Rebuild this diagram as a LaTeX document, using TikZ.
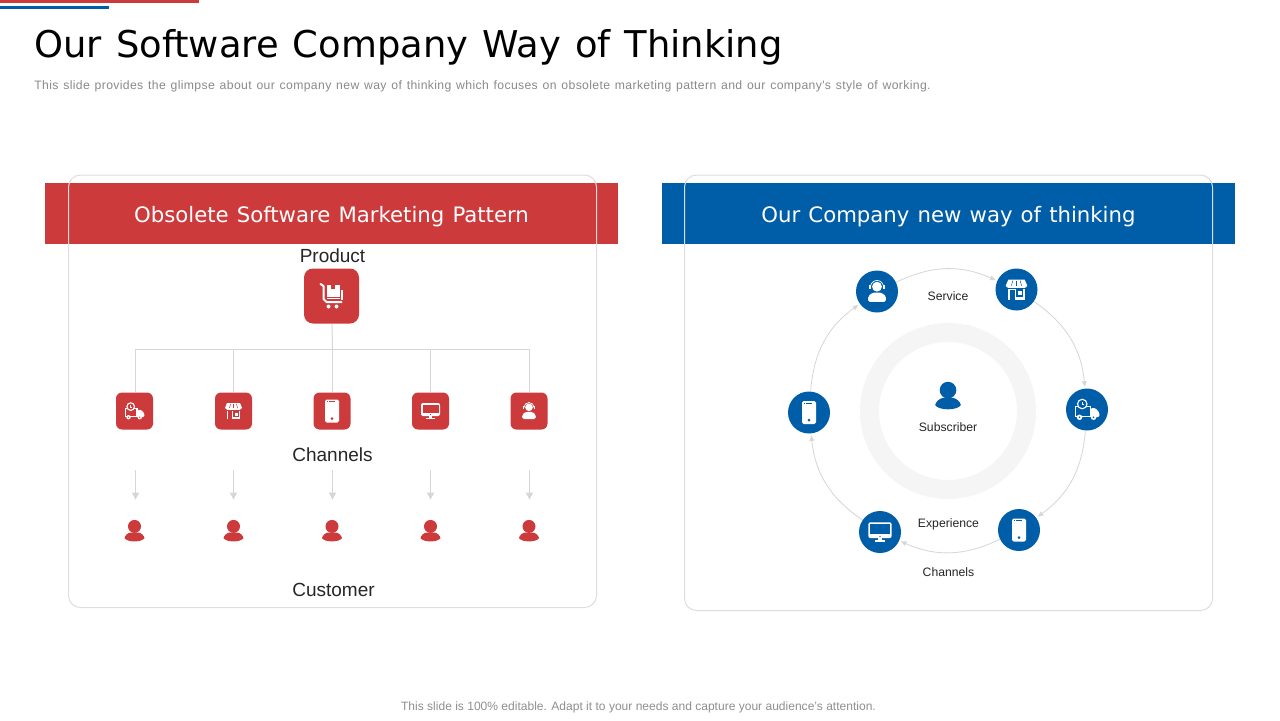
\documentclass[tikz,border=0pt]{standalone}
\usepackage{fontspec}
\setmainfont{Liberation Sans}
\newfontfamily\headfont[WordSpace=1.2]{DejaVu Sans}
\newfontfamily\subfont[LetterSpace=2.9,WordSpace=1.3]{Liberation Sans}
\usetikzlibrary{arrows.meta}
\definecolor{brandred}{HTML}{CC3A3C}
\definecolor{brandblue}{HTML}{005EA8}
\definecolor{framegray}{HTML}{DEDEDE}
\definecolor{linegray}{HTML}{D6D6D6}
\definecolor{ringgray}{HTML}{F5F5F5}
\definecolor{subgray}{HTML}{8A8A8A}
\definecolor{footgray}{HTML}{8F8F8F}
\definecolor{labelink}{HTML}{262626}
\tikzset{
  x=0.5pt,y=-0.5pt,
  panel/.style={draw=framegray,line width=.5pt,rounded corners=6pt,inner sep=0pt},
  banner/.style={inner sep=0pt,minimum width=286.5pt,minimum height=30.5pt},
  bannertext/.style={anchor=base,inner sep=0pt,text=white,font=\headfont\fontsize{10.62pt}{13pt}\selectfont},
  bigbox/.style={fill=brandred,rounded corners=4.5pt,minimum size=27.5pt,inner sep=0pt},
  chbox/.style={fill=brandred,rounded corners=3pt,minimum size=18.5pt,inner sep=0pt},
  blob/.style={fill=brandblue,circle,minimum size=21pt,inner sep=0pt},
  custnode/.style={inner sep=0pt,minimum width=11pt,minimum height=12pt},
  biglabel/.style={inner sep=0pt,text=labelink,font=\fontsize{9.5pt}{11pt}\selectfont},
  smalllabel/.style={inner sep=0pt,text=labelink,font=\fontsize{6.1pt}{8pt}\selectfont},
  tree/.style={draw=linegray,line width=.5pt},
  down/.style={draw=linegray,line width=.5pt,-{Triangle[length=3.5pt,width=3.5pt]},shorten <=20pt,shorten >=9.5pt},
  orbit/.style={draw=linegray,line width=.4pt,-{Latex[length=3pt,width=2.6pt]},bend left=25,shorten >=.5pt},
  pics/iphone/.style={code={
    \fill[white,rounded corners=.8pt] (-7,-11.5) rectangle (7,11.5);
    \fill[iconbg] (0,7.7) circle (1.5);
    \fill[iconbg] (-5,-9.9) rectangle (-4,-9);
    \fill[iconbg] (-3,-9.8) rectangle (3,-9.2);
  }},
  pics/imonitor/.style={code={
    \fill[white,rounded corners=1pt] (-9.5,-8) rectangle (9.5,5);
    \fill[iconbg] (-8,-6.5) rectangle (8,2);
    \fill[iconbg] (0,3.5) circle (.6);
    \fill[white] (-1.7,5) rectangle (1.7,7);
    \fill[white] (-4.5,6.6) rectangle (4.5,8);
  }},
  pics/iagent/.style={code={
    \fill[white] (0,-3.7) circle (3.8);
    \draw[white,line width=.35pt] (-5,-3.5) arc[start angle=180,end angle=360,radius=5];
    \fill[white] (-6.2,-4.8) rectangle (-4.8,-1.8);
    \fill[white] (4.8,-4.8) rectangle (6.2,-1.8);
    \fill[white,rounded corners=.8pt] (-6.8,8) -- (-6.8,3.5) -- (-3.2,.8) -- (3.2,.8) -- (6.8,3.5) -- (6.8,8) -- cycle;
  }},
  pics/ishop/.style={code={
    \fill[white] (-6.8,-3) rectangle (6.8,8);
    \fill[iconbg] (-5.2,0) rectangle (-1.4,8);
    \fill[iconbg] (-.2,-.2) rectangle (5.4,5.8);
    \fill[white] (1,1.5) rectangle (4.2,4.6);
    \fill[white] (-6.5,-8) -- (6.5,-8) -- (8.5,-3.2) -- (-8.5,-3.2) -- cycle;
    \foreach \u in {-8.5,-5.1,-1.7,1.7,5.1} {\fill[white] (\u+1.7,-3.2) circle (1.7);}
    \foreach \u in {-3.4,0,3.4} {\draw[iconbg,line width=.25pt] (\u*.85,-7.2) -- (\u*1.2,-3);}
    \fill[iconbg] (-8.5,-1.1) rectangle (8.5,-.6);
  }},
  pics/itruck/.style={code={
    \draw[white,line width=.55pt] (-9,-2.2) rectangle (2.5,5.5);
    \draw[white,line width=.55pt,fill=iconbg] (-3.8,-4.4) circle (3.8);
    \draw[white,line width=.3pt] (-3.8,-6.2) -- (-3.8,-4.2) -- (-2.2,-4.2);
    \fill[white,rounded corners=.6pt] (3.2,-1.2) -- (6.5,-1.2) -- (9.8,2.2) -- (9.8,6) -- (3.2,6) -- cycle;
    \fill[white] (-6,6.2) circle (2.2);
    \fill[white] (5.2,6.2) circle (2.2);
    \fill[iconbg] (-6,6.2) circle (.7);
    \fill[iconbg] (5.2,6.2) circle (.7);
  }},
  pics/icart/.style={code={
    \draw[white,line width=1pt,line join=round,line cap=round] (-11,-12) -- (-8,-10) -- (-8,3) -- (-5,6) -- (10,6);
    \fill[white] (-5,-11.5) rectangle (8,3);
    \fill[iconbg] (-.5,-11.5) rectangle (3,-7);
    \fill[iconbg] (-5,.8) rectangle (8,1.6);
    \draw[white,line width=.9pt] (10.8,-6) -- (10.8,4);
    \fill[white] (-3,10.5) circle (2);
    \fill[white] (5,10.5) circle (2);
  }},
  pics/iperson/.style={code={
    \fill[iconfg] (0,-4.6) circle (6.5);
    \fill[iconfg] (-10,7) .. controls (-9.5,4.5) and (-6.5,1.5) .. (-3.5,1.5) -- (3.5,1.5) .. controls (6.5,1.5) and (9.5,4.5) .. (10,7) .. controls (9,9) and (5,10.4) .. (0,10.4) .. controls (-5,10.4) and (-9,9) .. (-10,7) -- cycle;
  }},
}
\begin{document}
\begin{tikzpicture}
\useasboundingbox (0,0) rectangle (1280,720);
\fill[white] (0,0) rectangle (1280,720);
% top strips
\fill[brandred] (0,0) rectangle (199,3);
\fill[brandblue] (0,6) rectangle (109,9);
% heading
\node[anchor=base west,inner sep=0pt,text=black,font=\headfont\fontsize{18.45pt}{23pt}\selectfont] (title) at (34,57) {Our Software Company Way of Thinking};
\node[anchor=base west,inner sep=0pt,text=subgray,font=\subfont\fontsize{6.1pt}{8pt}\selectfont] (subtitle) at (34,89) {This slide provides the glimpse about our company new way of thinking which focuses on obsolete marketing pattern and our company's style of working.};
\node[anchor=base,inner sep=0pt,text=footgray,font=\fontsize{6.02pt}{8pt}\selectfont] (foot) at (638.5,710) {This slide is 100\% editable. Adapt it to your needs and capture your audience's attention.};
% left panel
\node[banner,fill=brandred] (lbanner) at (331.5,213.5) {};
\node[panel,minimum width=264pt,minimum height=216.25pt] (lpanel) at (332.5,391.25) {};
\node[bannertext] (ltitle) at (331.5,222) {Obsolete Software Marketing Pattern};
\node[biglabel] (product) at (332.5,255.5) {Product};
\node[biglabel] (channels) at (332.5,454.5) {Channels};
\node[biglabel] (customer) at (333.5,589.5) {Customer};
\begin{scope}
\colorlet{iconbg}{brandred}\colorlet{iconfg}{brandred}
\node[bigbox] (prod) at (331.5,296) {};
\pic at (prod.center) {icart};
\node[chbox] (ch1) at (134.5,411) {};
\node[chbox] (ch2) at (233.5,411) {};
\node[chbox] (ch3) at (332,411) {};
\node[chbox] (ch4) at (430.5,411) {};
\node[chbox] (ch5) at (529,411) {};
\pic at (ch1.center) {itruck};
\pic at (ch2.center) {ishop};
\pic at (ch3.center) {iphone};
\pic at (ch4.center) {imonitor};
\pic at (ch5.center) {iagent};
\foreach \i/\u in {1/134.5,2/233.5,3/332,4/430.5,5/529}{
  \node[custnode] (cu\i) at (\u,531) {};
  \pic at (cu\i.center) {iperson};
}
\end{scope}
\coordinate (bus) at (332.5,349.5);
\draw[tree] ([xshift=.25pt]prod.south) -- (bus);
\draw[tree] ([xshift=.5pt]ch1.north) |- (bus);
\draw[tree] (ch2.north) |- (bus);
\draw[tree] ([xshift=.25pt]ch3.north) -- (bus);
\draw[tree] (ch4.north) |- (bus);
\draw[tree] ([xshift=.25pt]ch5.north) |- (bus);
\draw[down] ([xshift=.5pt]ch1.south) -- ([xshift=.5pt]cu1.north);
\draw[down] (ch2.south) -- (cu2.north);
\draw[down] ([xshift=.25pt]ch3.south) -- ([xshift=.25pt]cu3.north);
\draw[down] (ch4.south) -- (cu4.north);
\draw[down] ([xshift=.25pt]ch5.south) -- ([xshift=.25pt]cu5.north);
% right panel
\node[banner,fill=brandblue] (rbanner) at (948.5,213.5) {};
\node[panel,minimum width=264pt,minimum height=217.75pt] (rpanel) at (948.5,392.75) {};
\node[bannertext] (rtitle) at (948.5,222) {Our Company new way of thinking};
\node[circle,draw=ringgray,line width=9.5pt,minimum size=78.5pt,inner sep=0pt] (ring) at (948,411) {};
\begin{scope}
\colorlet{iconbg}{brandblue}\colorlet{iconfg}{brandblue}
\node[blob] (agent) at (877,291.5) {};
\node[blob] (shop) at (1016.5,289.5) {};
\node[blob] (truck) at (1087,409.5) {};
\node[blob] (ph2) at (1019,530) {};
\node[blob] (mon) at (880,532) {};
\node[blob] (ph1) at (809,412.5) {};
\pic[scale=1.3] at (agent.center) {iagent};
\pic[scale=1.25] at (shop.center) {ishop};
\pic[scale=1.25] at (truck.center) {itruck};
\pic at (ph2.center) {iphone};
\pic[scale=1.22] at (mon.center) {imonitor};
\pic at (ph1.center) {iphone};
\node[inner sep=0pt,minimum size=12pt] (subj) at (948,396) {};
\pic[scale=1.28] at (subj.center) {iperson};
\end{scope}
\draw[orbit] (agent) to (shop);
\draw[orbit] (shop) to (truck);
\draw[orbit] (truck) to (ph2);
\draw[orbit] (ph2) to (mon);
\draw[orbit] (mon) to (ph1);
\draw[orbit] (ph1) to (agent);
\node[smalllabel] (lservice) at (948,296) {Service};
\node[smalllabel] (lsub) at (948,427.5) {Subscriber};
\node[smalllabel] (lexp) at (948.5,524) {Experience};
\node[smalllabel] (lchan) at (948.5,572) {Channels};
\end{tikzpicture}
\end{document}
